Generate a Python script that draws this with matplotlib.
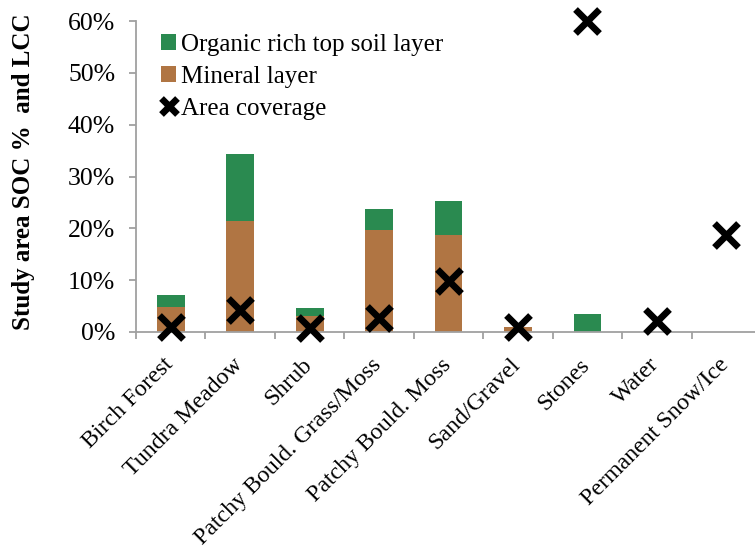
import matplotlib
matplotlib.use("Agg")
import matplotlib.pyplot as plt
import numpy as np
from matplotlib.transforms import ScaledTranslation
from matplotlib.ticker import FixedLocator, PercentFormatter

categories = ["Birch Forest", "Tundra Meadow", "Shrub", "Patchy Bould. Grass/Moss",
              "Patchy Bould. Moss", "Sand/Gravel", "Stones", "Water", "Permanent Snow/Ice"]
mineral = [4.9, 21.5, 3.1, 19.7, 18.7, 0.9, 0.0, 0.0, 0.0]
organic = [2.3, 12.9, 1.5, 4.0, 6.6, 0.0, 3.5, 0.0, 0.0]
area_coverage = [1.0, 4.3, 0.8, 2.7, 9.8, 1.0, 60.0, 2.1, 18.7]
yticks = [0, 10, 20, 30, 40, 50, 60]

GREEN = "#2a8a50"
BROWN = "#b07543"
SPINE = "#a0a0a0"

plt.rcParams["font.family"] = ["Liberation Serif", "DejaVu Serif"]

fig = plt.figure(figsize=(7.55, 5.55), dpi=100)
ax = fig.add_axes([136/755, 1-332/555, (761-136)/755, (332-21)/555])

x = np.arange(len(categories))
b_min = ax.bar(x, mineral, width=0.4, color=BROWN, label="Mineral layer", zorder=2)
b_org = ax.bar(x, organic, width=0.4, bottom=mineral, color=GREEN, label="Organic rich top soil layer", zorder=2)
ln, = ax.plot(x, area_coverage, linestyle="none", marker="x", markersize=17, markeredgewidth=4.8,
              color="black", label="Area coverage", zorder=3, clip_on=False)

ax.set_xlim(-0.5, len(categories) - 0.5)
ax.set_ylim(0, 60)
ax.yaxis.set_major_locator(FixedLocator(yticks))
ax.yaxis.set_major_formatter(PercentFormatter(decimals=0))

for s in ["top", "right"]:
    ax.spines[s].set_visible(False)
for s in ["left", "bottom"]:
    ax.spines[s].set_color(SPINE)
    ax.spines[s].set_linewidth(1.3)

ax.tick_params(axis="y", which="major", direction="out", length=5, width=1.3, color=SPINE,
               labelsize=18.5, pad=10)
ax.xaxis.set_major_locator(FixedLocator(np.arange(-0.5, len(categories), 1.0)))
ax.xaxis.set_major_formatter(plt.NullFormatter())
ax.tick_params(axis="x", which="major", direction="out", length=5, width=1.3, color=SPINE)
ax.xaxis.set_minor_locator(FixedLocator(x))
ax.set_xticks(x, categories, minor=True)
ax.tick_params(axis="x", which="minor", length=0, labelsize=17.2, pad=16)
for lab in ax.get_xticklabels(minor=True):
    lab.set_rotation(45)
    lab.set_ha("right")
    lab.set_va("top")
    lab.set_rotation_mode("default")
    lab.set_transform(lab.get_transform() + ScaledTranslation(7/100, 0, fig.dpi_scale_trans))

ax.set_ylabel("Study area SOC %  and LCC", fontsize=18, fontweight="bold")
ax.yaxis.set_label_coords(-0.162, 0.516)

leg = ax.legend([b_org, b_min, ln], [b_org.get_label(), b_min.get_label(), ln.get_label()],
                loc="upper left", bbox_to_anchor=(0.02, 1.0), frameon=False, fontsize=18,
                handlelength=0.6, handleheight=0.6, handletextpad=0.2, labelspacing=0.4,
                borderaxespad=0.1, markerscale=0.7)

fig.savefig("out.png", dpi=100)
